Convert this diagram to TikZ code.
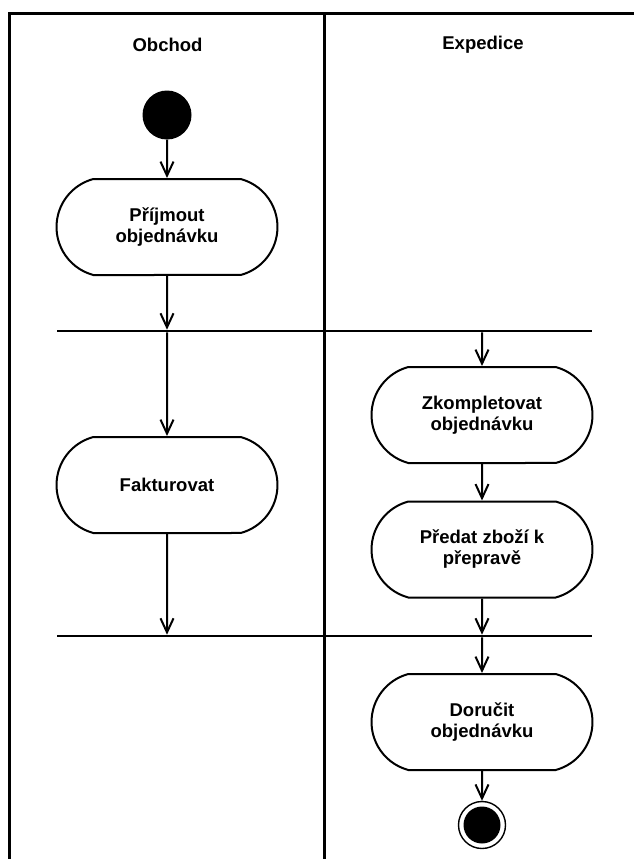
\documentclass[tikz,border=0pt]{standalone}
\usepackage{fontspec}
\setmainfont{Liberation Sans}
\usetikzlibrary{arrows.meta,shapes.misc}

\tikzset{
  frameline/.style={line width=3pt, line cap=rect},
  lanetitle/.style={font=\bfseries\fontsize{18.5}{21}\selectfont, inner sep=0pt},
  action/.style={rounded rectangle, rounded rectangle arc length=150,
    draw, line width=2pt, minimum width=221pt, minimum height=96pt,
    inner sep=0pt, align=center, font=\bfseries\fontsize{18.5}{21}\selectfont},
  syncbar/.style={fill=black, minimum width=535pt, minimum height=2.6pt,
    inner sep=0pt, outer sep=0pt},
  startnode/.style={circle, fill=black, minimum size=49pt, inner sep=0pt},
  endnode/.style={circle, draw, line width=1.4pt, minimum size=47pt, inner sep=0pt},
  flow/.style={line width=2pt, -{Straight Barb[length=14pt,width=13pt,line width=2pt]}},
}

\begin{document}
\begin{tikzpicture}[x=1pt, y=-1pt]
  \useasboundingbox (0,0) rectangle (633,859);

  % swimlane frame
  \coordinate (tr) at (633,14);
  \coordinate (tl) at (9,14);
  \coordinate (bl) at (9,859);
  \coordinate (dtop) at (324,14);
  \coordinate (dbot) at (324,859);
  \draw[frameline] (tr) -- (tl) -- (bl);
  \draw[frameline] (dtop) -- (dbot);

  % lane titles
  \node[lanetitle] (obchod) at (167.5,45) {Obchod};
  \node[lanetitle] (expedice) at (483,45) {Expedice};

  % activities
  \node[startnode] (start) at (167,115) {};
  \node[action] (prijmout) at (167,227) {Příjmout\\objednávku};
  \node[syncbar] (fork) at (324.5,331) {};
  \node[action] (fakturovat) at (167,485) {Fakturovat};
  \node[action] (zkompletovat) at (482,415) {Zkompletovat\\objednávku};
  \node[action] (predat) at (482,549.5) {Předat zboží k\\přepravě};
  \node[syncbar] (join) at (324.5,636) {};
  \node[action] (dorucit) at (482,722) {Doručit\\objednávku};
  \node[endnode] (finish) at (482,825) {};
  \fill (finish.center) circle (18.5pt);

  % control flow
  \draw[flow] (start) -- (prijmout);
  \draw[flow] (prijmout) -- (prijmout |- fork.north);
  \draw[flow] (fakturovat |- fork.south) -- (fakturovat);
  \draw[flow] (zkompletovat |- fork.south) -- (zkompletovat);
  \draw[flow] (zkompletovat) -- (predat);
  \draw[flow] (fakturovat) -- (fakturovat |- join.north);
  \draw[flow] (predat) -- (predat |- join.north);
  \draw[flow] (dorucit |- join.south) -- (dorucit);
  \draw[flow] (dorucit) -- (finish);
\end{tikzpicture}
\end{document}
